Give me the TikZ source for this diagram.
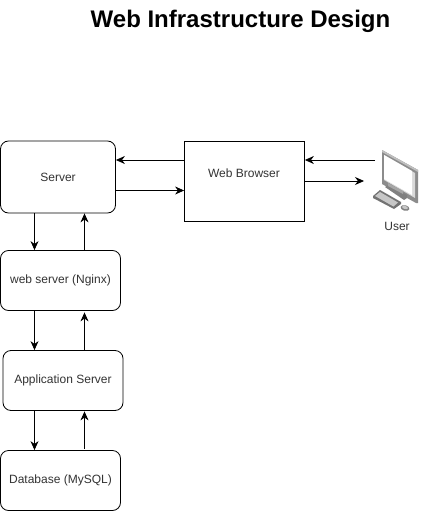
\documentclass[tikz,border=0pt]{standalone}
\usepackage{fontspec}
\setmainfont{Liberation Sans}
\usetikzlibrary{arrows.meta}
\tikzset{
  box/.style={draw=black,line width=0.8pt,rounded corners=8pt,fill=white,text=black!80,font=\fontsize{12}{14}\selectfont,inner sep=0pt},
  lbl/.style={text=black!80,font=\fontsize{12}{14}\selectfont},
  flow/.style={draw=black,line width=0.8pt,-{Stealth[length=9pt,width=8pt]}},
}
\begin{document}
\begin{tikzpicture}[x=1pt,y=-1pt]
\useasboundingbox (0,0) rectangle (428,511);
\fill[white] (0,0) rectangle (428,511);
\node (title) at (240.5,21) {\fontsize{24}{28}\selectfont\bfseries Web Infrastructure Design};
\node[box,minimum width=115pt,minimum height=72pt] (server) at (58,177) {Server};
\node[box,minimum width=120pt,minimum height=60pt] (web) at (60.5,280.5) {web server (Nginx)};
\node[box,minimum width=120pt,minimum height=60pt] (app) at (63,380.5) {Application Server};
\node[box,minimum width=120pt,minimum height=60pt] (db) at (60.5,480.5) {Database (MySQL)};
\node[box,rounded corners=0pt,minimum width=120pt,minimum height=80pt] (browser) at (244.5,181) {};
\node[lbl] (browserlabel) at (244,173) {Web Browser};
% icon
\coordinate (iconW) at (375,160);
\coordinate (iconE) at (364,181);
\fill[black!45] (382,150) -- (418,170) -- (418,203) -- (416,203) -- (382,184) -- cycle;
\fill[black!25] (382,150) -- (418,170) -- (418,172) -- (382,152) -- cycle;
\fill[black!15] (384,155) -- (415,173) -- (415,198) -- (384,180) -- cycle;
\fill[white] (384,155) -- (412,171) -- (412,195) -- (384,179) -- cycle;
\fill[black!50] (385,187) -- (388,185) -- (407,195) -- (407,198) -- (404,200) -- cycle;
\fill[black!35] (388,183) -- (403,191) -- (403,194) -- (388,186) -- cycle;
\fill[black!55] (373,196) -- (380,190) -- (401,202) -- (401,204) -- (394,209) -- (373,198) -- cycle;
\fill[black!22] (375,196) -- (380,192) -- (398,202.5) -- (393.5,206.5) -- cycle;
\fill[black!50,rotate around={-15:(405,208)}] (405,208) ellipse (4.5pt and 2.8pt);
\fill[black!22,rotate around={-15:(405,207.5)}] (405,207.5) ellipse (3pt and 1.5pt);
\node[lbl] (user) at (397,226.5) {User};
% connector lanes
\coordinate (down) at (34.5,0);
\coordinate (up) at (84.5,0);
\coordinate (upper) at (0,160);
\coordinate (lower) at (0,190.5);
% connectors
\draw[flow] (browser.west |- upper) -- (server.east |- upper);
\draw[flow] (server.east |- lower) -- (browser.west |- lower);
\draw[flow] (iconW) -- (browser.east |- iconW);
\draw[flow] (browser.east |- iconE) -- (iconE);
\draw[flow] (server.south -| down) -- (web.north -| down);
\draw[flow] (web.north -| up) -- (server.south -| up);
\draw[flow] (web.south -| down) -- (app.north -| down);
\draw[flow] ([yshift=0pt]app.north -| up) -- ([yshift=-1.5pt]web.south -| up);
\draw[flow] (app.south -| down) -- (db.north -| down);
\draw[flow] ([yshift=1.5pt]db.north -| up) -- ([yshift=-0.5pt]app.south -| up);
\end{tikzpicture}
\end{document}
